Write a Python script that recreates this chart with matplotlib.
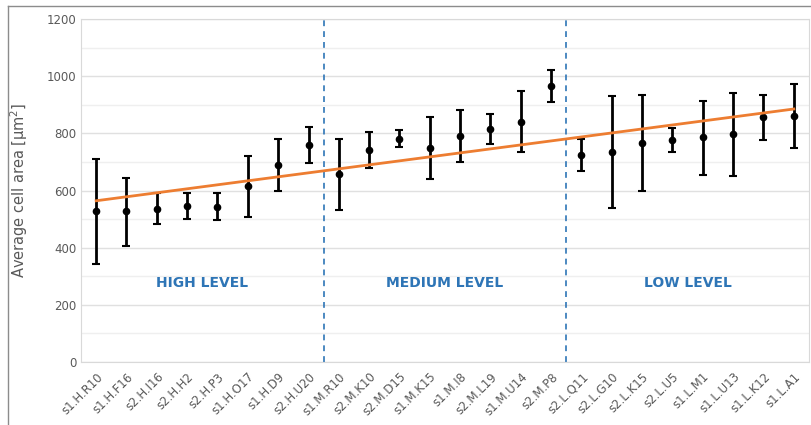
import matplotlib.pyplot as plt
import matplotlib.lines as mlines
import numpy as np

samples = ["s1.H.R10", "s1.H.F16", "s2.H.I16", "s2.H.H2", "s2.H.P3", "s1.H.O17",
           "s1.H.D9", "s2.H.U20", "s1.M.R10", "s2.M.K10", "s2.M.D15", "s1.M.K15",
           "s1.M.I8", "s2.M.L19", "s1.M.U14", "s2.M.P8", "s2.L.Q11", "s2.L.G10",
           "s2.L.K15", "s2.L.U5", "s1.L.M1", "s1.L.U13", "s1.L.K12", "s1.L.A1"]
mean_area = [528, 527, 537, 545, 543, 615, 690, 760, 657, 740, 780, 750,
             792, 815, 840, 967, 724, 735, 767, 778, 787, 798, 856, 860]
err_top = [710, 645, 590, 590, 590, 722, 780, 822, 780, 803, 810, 858,
           880, 867, 948, 1022, 780, 930, 935, 820, 913, 942, 935, 972]
err_bottom = [343, 407, 482, 500, 497, 508, 600, 695, 533, 677, 752, 640,
              700, 762, 735, 910, 668, 538, 600, 735, 655, 650, 775, 747]
level_names = ["HIGH LEVEL", "MEDIUM LEVEL", "LOW LEVEL"]
level_sizes = [8, 8, 8]

fig = plt.figure(figsize=(8.12, 4.25), dpi=100)
ax = fig.add_axes([81 / 812, 1 - 362 / 425, (809 - 81) / 812, (362 - 19) / 425])

# outer chart frame (only top and left are visible in the crop)
fig.add_artist(mlines.Line2D([8 / 812, 8 / 812], [0, 1 - 6 / 425], color="#8c8c8c", lw=1))
fig.add_artist(mlines.Line2D([8 / 812, 1], [1 - 6 / 425, 1 - 6 / 425], color="#8c8c8c", lw=1))

x = np.arange(len(samples))
mean = np.array(mean_area)
yerr = [mean - np.array(err_bottom), np.array(err_top) - mean]

ax.set_axisbelow(True)
ax.errorbar(x, mean, yerr=yerr, fmt="o", color="black", ms=4.5, elinewidth=2,
            capsize=3, capthick=1.5, zorder=3)

# linear trend through the means
k, b = np.polyfit(x, mean, 1)
ax.plot(x, k * x + b, color="#ed7d31", lw=2, zorder=4)

# group separators and labels
start = 0
for name, n in zip(level_names, level_sizes):
    ax.text(start + (n - 1) / 2, 277, name, color="#2e75b6", fontsize=10,
            fontweight="bold", ha="center", va="center")
    start += n
    if start < len(samples):
        ax.axvline(start - 0.5, color="#2e75b6", ls=(0, (3.5, 3)), lw=1.2)

ax.set_xlim(-0.5, len(samples) - 0.5)
ax.set_ylim(0, 1200)
ax.set_yticks(range(0, 1201, 200))
ax.set_yticks(range(100, 1200, 200), minor=True)
ax.yaxis.grid(True, which="major", color="#e0e0e0", lw=1)
ax.yaxis.grid(True, which="minor", color="#efefef", lw=1)
ax.set_xticks(x)
ax.set_xticklabels(samples, rotation=45, ha="right", rotation_mode="anchor")
ax.tick_params(axis="both", which="both", length=0, colors="#595959", labelsize=8.5)
ax.tick_params(axis="x", pad=6)
ax.set_ylabel("Average cell area [µm$^2$]", color="#595959", fontsize=10.5, labelpad=12)
for s in ax.spines.values():
    s.set_color("#d9d9d9")

fig.savefig("out.png", dpi=100)
